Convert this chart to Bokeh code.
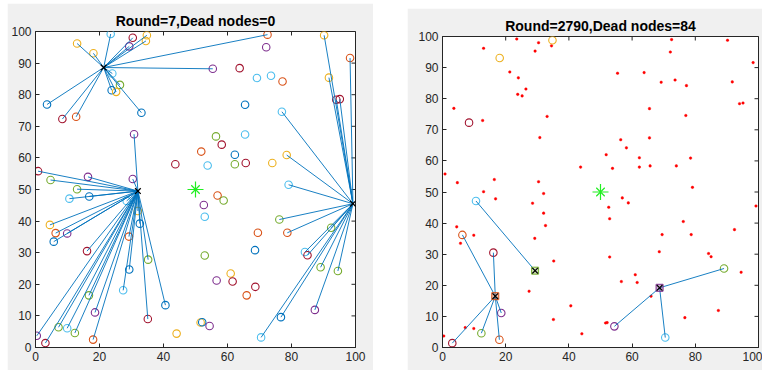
import math
from bokeh.plotting import figure
from bokeh.layouts import row
from bokeh.models import Range1d, LinearAxis, FixedTicker
from bokeh.embed import file_html
from bokeh.resources import INLINE

# ---------------- data ----------------
node_x = [21.3, 23.5, 30.4, 34.8, 34.5, 29.3, 13.0, 18.1, 24.0, 26.4,
          23.8, 25.2, 33.1, 3.6, 8.4, 12.7, 30.8, 0.8, 4.7, 16.4,
          30.4, 43.7, 72.5, 90.2, 98.3, 72.1, 55.4, 63.8, 69.2, 73.6,
          77.2, 91.7, 94.0, 95.1, 65.5, 77.0, 56.4, 58.2, 65.5, 51.8,
          62.3, 53.8, 62.3, 65.7, 74.0, 78.5, 79.1, 32.0, 13.0, 16.8,
          10.6, 28.5, 32.0, 32.6, 4.5, 6.3, 9.9, 5.7, 29.2, 16.1,
          35.2, 29.3, 27.4, 16.7, 40.6, 18.6, 35.1, 7.2, 9.9, 12.3,
          0.4, 3.1, 18.0, 44.1, 51.6, 56.9, 58.8, 52.6, 52.9, 69.5,
          78.7, 76.2, 92.4, 68.6, 84.2, 85.0, 52.9, 89.1, 94.5, 61.0,
          56.6, 61.6, 68.7, 66.0, 87.3, 76.7, 70.5, 52.1, 54.4, 99.2]
node_y = [88.6, 99.2, 98.0, 98.8, 97.0, 95.3, 96.2, 93.1, 86.7, 83.1,
          81.4, 80.9, 74.3, 76.9, 72.3, 73.0, 67.5, 55.8, 53.0, 54.0,
          53.3, 58.0, 99.0, 98.8, 91.6, 95.0, 88.2, 88.4, 85.3, 86.0,
          84.2, 85.4, 78.4, 78.6, 76.8, 74.6, 66.8, 64.2, 67.4, 62.0,
          61.0, 57.6, 58.0, 58.4, 58.4, 60.9, 51.5, 49.5, 50.1, 47.8,
          47.1, 46.4, 43.2, 39.2, 38.8, 36.2, 36.1, 33.5, 35.1, 30.5,
          27.8, 24.7, 18.1, 16.5, 13.4, 11.1, 9.0, 6.4, 6.1, 4.6,
          3.7, 1.4, 2.5, 4.4, 7.9, 48.1, 46.5, 45.1, 41.4, 36.3,
          36.3, 40.5, 37.9, 30.8, 30.2, 29.2, 29.1, 25.4, 24.2, 23.4,
          21.2, 20.9, 19.2, 16.5, 11.9, 9.6, 3.2, 8.0, 6.8, 45.5]
node_c = ["b", "c", "r", "y", "y", "p", "y", "y", "c", "g",
          "b", "y", "b", "b", "r", "o", "p", "r", "g", "p",
          "p", "r", "o", "y", "o", "p", "p", "r", "c", "c",
          "o", "y", "r", "r", "b", "c", "g", "r", "c", "o",
          "b", "c", "g", "r", "y", "y", "c", "b", "g", "b",
          "c", "c", "y", "b", "y", "o", "p", "b", "o", "r",
          "g", "b", "c", "g", "b", "p", "r", "g", "c", "g",
          "p", "r", "o", "y", "y", "o", "g", "p", "c", "o",
          "o", "g", "g", "b", "c", "r", "g", "g", "g", "y",
          "p", "r", "r", "o", "p", "b", "c", "b", "p", "b"]

# Round 7: cluster heads and which head each node sends to (-1 = none)
r7_heads = [0, 47, 99]
r7_link = [-1, 0, 0, 0, 0, 0, 0, 0, 0, 0,
           0, 0, 0, 0, 0, 0, 1, 1, 1, 1,
           1, -1, 0, 2, 2, -1, 0, -1, -1, -1,
           -1, 2, 2, 2, -1, 2, -1, -1, -1, -1,
           -1, -1, -1, -1, -1, 2, 2, -1, 1, 1,
           1, 1, 1, 1, 1, 1, 1, 1, 1, 1,
           1, 1, 1, 1, 1, 1, 1, 1, 1, 1,
           1, 1, 1, -1, -1, -1, -1, -1, -1, -1,
           2, 2, 2, -1, 2, 2, -1, 2, 2, -1,
           -1, -1, -1, -1, 2, 2, 2, -1, -1, -1]

# Round 2790: alive flags, cluster heads, links
r2790_alive = [0, 0, 0, 1, 0, 0, 0, 1, 0, 0,
               0, 0, 0, 0, 1, 0, 0, 0, 0, 0,
               0, 0, 0, 0, 0, 0, 0, 0, 0, 0,
               0, 0, 0, 0, 0, 0, 0, 0, 0, 0,
               0, 0, 0, 0, 0, 0, 0, 0, 0, 0,
               1, 0, 0, 0, 0, 1, 0, 0, 0, 1,
               0, 1, 0, 1, 0, 1, 0, 0, 0, 1,
               0, 1, 1, 0, 0, 0, 0, 0, 0, 0,
               0, 0, 0, 0, 0, 0, 0, 1, 0, 0,
               0, 0, 1, 0, 0, 0, 1, 0, 1, 0]
r2790_heads = [61, 63, 92]
r2790_head_c = ["g", "o", "p"]
r2790_link = {50: 0, 55: 1, 59: 1, 65: 1, 69: 1, 71: 1, 72: 1, 87: 2, 96: 2, 98: 2}

sink_x = [50]
sink_y = [50]
x_lim = (0, 100)
y_lim = (0, 100)
x_ticks = [0, 20, 40, 60, 80, 100]
y_ticks = [0, 10, 20, 30, 40, 50, 60, 70, 80, 90, 100]
titles = ["Round=7,Dead nodes=0", "Round=2790,Dead nodes=84"]

# ---------------- styles ----------------
PAL = {"b": "#0072BD", "o": "#D95319", "y": "#EDB120", "p": "#7E2F8E",
       "g": "#77AC30", "c": "#4DBEEE", "r": "#A2142F"}
FONT = "Liberation Sans"
AX = "#262626"
LINE = "#0072BD"
SINK = "#22EE22"


def make_fig(title, width, height, bl, br, bt, bb, margin):
    p = figure(width=width, height=height, output_backend="svg", toolbar_location=None,
               x_range=Range1d(*x_lim), y_range=Range1d(*y_lim),
               min_border_left=bl, min_border_right=br, min_border_top=bt, min_border_bottom=bb,
               x_axis_location=None, y_axis_location=None, margin=margin)
    p.background_fill_color = "white"
    p.border_fill_color = "#F0F0F0"
    p.outline_line_color = AX
    p.outline_line_width = 1
    p.xgrid.visible = False
    p.ygrid.visible = False
    p.title.text = title
    p.title.align = "center"
    p.title.text_font = FONT
    p.title.text_font_size = "14px"
    p.title.text_font_style = "bold"
    p.title.text_color = "#000000"
    p.title.standoff = 6

    def axis(ticks):
        a = LinearAxis(ticker=FixedTicker(ticks=ticks))
        a.major_tick_in = 4
        a.major_tick_out = 0
        a.minor_tick_line_color = None
        a.axis_line_color = AX
        a.major_tick_line_color = AX
        a.major_label_text_font = FONT
        a.major_label_text_color = AX
        a.major_label_text_font_size = "12px"
        a.major_label_standoff = 4
        return a

    p.add_layout(axis(x_ticks), "below")
    p.add_layout(axis(y_ticks), "left")
    # inward tick marks on the top and right edges of the box
    p.scatter(x_ticks, [y_lim[1]] * len(x_ticks), marker="dash", angle=math.pi / 2,
              size=8, line_color=AX, line_width=1)
    p.scatter([x_lim[1]] * len(y_ticks), y_ticks, marker="dash",
              size=8, line_color=AX, line_width=1)
    return p


def add_sink(p):
    p.scatter(sink_x, sink_y, marker="cross", size=16, line_color=SINK, line_width=1.2)
    p.scatter(sink_x, sink_y, marker="x", size=12, line_color=SINK, line_width=1.2)


# ---------------- Round 7 ----------------
p1 = make_fig(titles[0], 366, 367, 28, 18, 28, 21, (3, 0, 0, 7))
idx = [i for i in range(len(node_x)) if i not in r7_heads]
p1.scatter([node_x[i] for i in idx], [node_y[i] for i in idx], marker="circle", size=7.5,
           fill_color=None, line_color=[PAL[node_c[i]] for i in idx], line_width=1.1)
seg = [i for i in range(len(node_x)) if r7_link[i] >= 0]
p1.segment(x0=[node_x[i] for i in seg], y0=[node_y[i] for i in seg],
           x1=[node_x[r7_heads[r7_link[i]]] for i in seg],
           y1=[node_y[r7_heads[r7_link[i]]] for i in seg],
           line_color=LINE, line_width=1, line_alpha=0.9)
p1.scatter([node_x[h] for h in r7_heads], [node_y[h] for h in r7_heads], marker="x",
           size=8, line_color="black", line_width=1.3)
add_sink(p1)

# ---------------- Round 2790 ----------------
p2 = make_fig(titles[1], 355, 362, 35, 4, 25, 23, (8, 0, 0, 34))
dead = [i for i in range(len(node_x)) if not r2790_alive[i]]
p2.scatter([node_x[i] for i in dead], [node_y[i] for i in dead], marker="circle", size=2.6,
           fill_color="#FF0000", line_color="#FF0000", line_width=0.4)
alive = [i for i in range(len(node_x)) if r2790_alive[i] and i not in r2790_heads]
p2.scatter([node_x[i] for i in alive], [node_y[i] for i in alive], marker="circle", size=7.5,
           fill_color=None, line_color=[PAL[node_c[i]] for i in alive], line_width=1.1)
seg2 = list(r2790_link.keys())
p2.segment(x0=[node_x[i] for i in seg2], y0=[node_y[i] for i in seg2],
           x1=[node_x[r2790_heads[r2790_link[i]]] for i in seg2],
           y1=[node_y[r2790_heads[r2790_link[i]]] for i in seg2],
           line_color=LINE, line_width=1, line_alpha=0.9)
p2.scatter([node_x[h] for h in r2790_heads], [node_y[h] for h in r2790_heads], marker="square",
           size=7, fill_color=[PAL[c] for c in r2790_head_c], fill_alpha=0.35,
           line_color=[PAL[c] for c in r2790_head_c], line_width=1)
p2.scatter([node_x[h] for h in r2790_heads], [node_y[h] for h in r2790_heads], marker="x",
           size=8, line_color="black", line_width=1.2)
add_sink(p2)

layout = row(p1, p2)
open("out.html", "w").write(file_html(layout, INLINE))
